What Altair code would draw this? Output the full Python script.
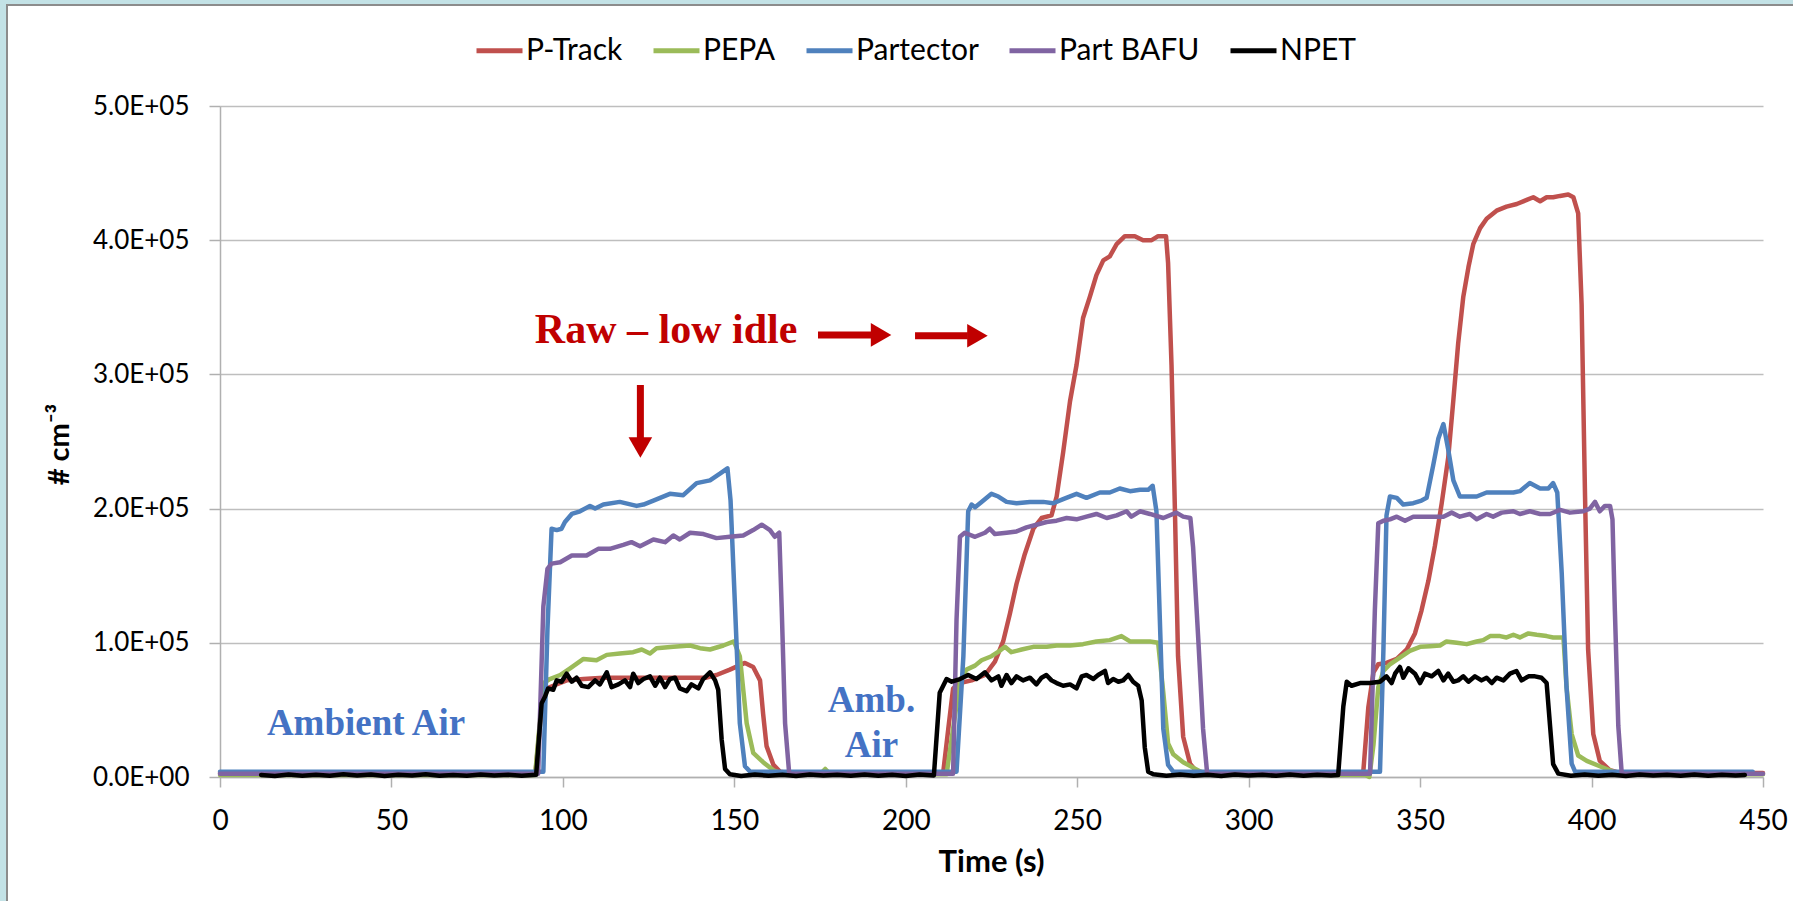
import altair as alt
import pandas as pd

# ---------------- data (values in thousands of # cm-3) ----------------
series_names = ["P-Track", "PEPA", "Partector", "Part BAFU", "NPET"]
series_colors = ["#C0504D", "#9BBB59", "#4F81BD", "#8064A2", "#000000"]

ptrack_t = [0, 92, 93.8, 95.3, 97.2, 101.1, 106, 111.8, 118.6, 125.4, 131.2, 137.1, 141.9, 144.8, 148.7,
            153.1, 155.5, 157.5, 158.4, 159.4, 161.4, 163.3, 166,
            210.9, 212.4, 213.8, 215.8, 219.2, 223.1, 226, 228.4, 230.4, 232.3, 234.7, 237.2, 239.6, 242.5,
            244, 245.9, 247.9, 249.8, 251.7, 253.7, 255.6, 257.6, 259.5, 261.5, 263.9, 266.8, 269.2, 271.7,
            273.6, 275.9, 276.5, 277.5, 278.5, 279.4, 280.9, 282.9, 284.8, 290,
            333.4, 334.9, 336.4, 337.8, 340.2, 343.2, 346.1, 348.5, 350.4, 352.4, 354.3, 356.3, 358.2, 359.7,
            361.1, 362.6, 364.1, 365.5, 367.5, 369.4, 372.3, 375.2, 378.2, 381.1, 383, 385, 386.9, 388.8,
            390.8, 393.2, 394.7, 396.1, 397.1, 398.1, 399, 400.5, 402.4, 405.4, 408.3, 450]
ptrack_v = [3, 3, 52, 66, 68, 72, 73, 74, 74, 74, 74, 74, 74, 76, 80,
            85, 82, 72, 47, 23, 9, 4, 3,
            3, 36, 66, 70, 72, 76, 86, 101, 122, 144, 166, 185, 193, 195,
            209, 242, 280, 307, 342, 358, 374, 385, 388, 397, 403, 403, 400, 400,
            403, 403, 383, 307, 198, 90, 30, 10, 4, 3,
            3, 52, 78, 84, 85, 88, 95, 107, 124, 146, 172, 204, 238, 281,
            323, 358, 380, 397, 409, 416, 422, 425, 427, 430, 432, 429, 432, 432,
            433, 434, 432, 420, 352, 209, 95, 32, 12, 5, 3, 3]

pepa_t = [0, 91.9, 94.3, 96.2, 99.2, 102.1, 106, 109.8, 112.8, 116.6, 120.5, 123, 125.4, 127.3, 132.2,
          137.1, 140, 142.9, 146.8, 149.9, 151.6, 153.6, 155.5, 158.4, 161.4, 164.3, 175, 176.5, 178,
          211.9, 213.8, 215.8, 217.7, 220.2, 222.1, 225, 227.4, 228.9, 230.8, 233.8, 237.2, 241.1, 244,
          247.9, 251.7, 255.6, 259.5, 262.9, 265.4, 268.3, 271.2, 273.6, 275.1, 276.5, 278, 280.9, 283.8,
          286.7, 290,
          334, 335.2, 336.4, 337.8, 339.3, 341.2, 344.1, 347, 350, 352.9, 355.8, 357.7, 360.7, 363.6,
          366.5, 368.4, 370.4, 373.3, 375.2, 377.2, 379.1, 381.6, 384, 386.9, 388.8, 391.8, 392.7, 394.2,
          396.1, 398.6, 402.4, 406.3, 410, 450]
pepa_v = [1.5, 1.5, 70, 73, 76, 81, 88, 87, 91, 92, 93, 95, 92, 96, 97,
          98, 96, 95, 98, 101, 90, 40, 18, 11, 5, 2, 2, 6, 2,
          2, 36, 71, 80, 83, 87, 90, 94, 97, 93, 95, 97, 97, 98,
          98, 99, 101, 102, 105, 101, 101, 101, 100, 63, 25, 17, 11, 7,
          3, 2,
          1.5, 0, 24, 67, 79, 84, 89, 94, 97, 97.5, 98, 101, 100, 99,
          101, 102, 105, 105, 104, 106, 104, 107, 106, 105, 104, 104, 67, 32,
          16, 12, 8, 4, 2, 2]

partector_t = [0, 94.3, 95.5, 96.7, 98.2, 99.6, 100.6, 102.6, 105, 107.9, 109.4, 111.8, 116.6, 121.5,
               123.5, 126.4, 131.2, 135.1, 139, 142.9, 145.8, 148, 148.9, 150.2, 151.6, 153.1, 154.6,
               214.8, 216.8, 218.2, 219.2, 220.2, 222.1, 225, 227, 229.4, 232.3, 236.2, 240.1, 243, 245.9,
               249.8, 252.7, 256.6, 259.5, 262.4, 265.4, 268.3, 270.7, 272, 273.1, 274.1, 275.1, 276.5, 278,
               338.3, 339.3, 340.2, 341.2, 343.2, 345.1, 348, 350.4, 351.9, 353.8, 355.3, 356.8, 358.2, 359.7,
               361.6, 363.6, 366.5, 369.4, 373.3, 377.2, 379.1, 382, 385, 387.4, 388.8, 390, 391.3, 392.7,
               394.2, 395.2, 447]
partector_v = [4, 4, 110, 185, 184, 185, 190, 196, 198, 202, 200, 203, 205, 202,
               203, 206, 211, 210, 219, 221, 226, 230, 206, 127, 40, 8, 4,
               4, 90, 198, 203, 201, 205, 211, 209, 205, 204, 205, 205, 204, 207,
               211, 208, 212, 212, 215, 213, 214, 214, 217, 198, 117, 36, 9, 4,
               4, 95, 195, 209, 208, 203, 204, 206, 208, 232, 252, 263, 244, 221,
               209, 209, 209, 212, 212, 212, 213, 219, 215, 215, 219, 212, 152, 67,
               10, 4, 4]

bafu_t = [0, 92.8, 94.3, 95.5, 96.7, 99.2, 102.6, 106.9, 110.3, 113.7, 117.6, 120, 122.5, 126.4, 129.8,
          132.2, 134.1, 137.1, 141, 144.8, 148.7, 152.6, 155.5, 158, 160.4, 161.8, 163.1, 163.8, 164.8, 166,
          213.8, 214.8, 215.8, 217.2, 220.2, 223.1, 224.5, 226, 229.4, 232.3, 235.2, 238.1, 241.1, 244,
          246.9, 249.8, 252.7, 255.6, 258.6, 261.5, 264.4, 265.8, 268.3, 271.2, 275.1, 278.9, 280.9, 283,
          283.8, 285.3, 286.7, 287.9,
          335.4, 336.8, 337.8, 339.3, 341.2, 343.2, 345.6, 348, 350.9, 353.8, 356.8, 359.2, 361.6, 364.5,
          366.5, 369.4, 371.3, 373.8, 377.2, 379.1, 382, 385, 387.9, 390.8, 393.7, 397.6, 399.5, 401,
          402.4, 403.9, 405.4, 406.1, 406.8, 407.8, 408.8, 450]
bafu_v = [2.5, 2.5, 127, 155, 159, 160, 165, 165, 170, 170, 173, 175, 172, 177, 175,
          180, 177, 182, 181, 178, 179, 180, 184, 188, 184, 179, 182, 127, 40, 2.5,
          2.5, 117, 179, 182, 179, 182, 185, 181, 182, 183, 186, 188, 190, 191,
          193, 192, 194, 196, 193, 195, 198, 194, 198, 196, 193, 197, 194, 193,
          171, 103, 36, 2.5,
          2.5, 124, 189, 191, 192, 194, 191, 194, 194, 194, 194, 197, 194, 196,
          192, 196, 194, 197, 198, 196, 198, 196, 196, 199, 197, 198, 200, 205,
          198, 202, 202, 192, 124, 38, 2.5, 2.5]

npet_t = [12, 16, 20, 24, 28, 32, 36, 40, 44, 48, 52, 56, 60, 64, 68, 72, 76, 80, 84, 88, 92.2,
          93.8, 94.8, 95.7, 97.2, 98.2, 99.6, 101.1, 102.6, 104, 105.5, 107.4, 109.4, 110.8, 112.8,
          114.2, 116.2, 118.1, 119.6, 120.5, 122, 123.5, 125.4, 126.9, 128.3, 129.8, 131.2, 132.7,
          134.1, 136.1, 137.5, 139.5, 140.9, 142.9, 144.4, 145.3, 146.3, 147.3, 148.7,
          152, 156, 160, 164, 168, 172, 176, 180, 184, 188, 192, 196, 200, 204, 208.2,
          209.9, 211.9, 213.4, 215.8, 218.2, 220.6, 223.1, 225, 227, 227.9, 229.4, 230.8, 232.3, 234.2,
          236.2, 238.1, 239.6, 241, 242.5, 244, 245.9, 247.9, 249.8, 251.3, 252.7, 254.7, 256.1, 258.1,
          259, 260.5, 262, 263.4, 264.9, 266.3, 267.8, 268.8, 269.7, 270.7, 272.2,
          276, 280, 284, 288, 292, 296, 300, 304, 308, 312, 316, 320, 324, 326.1,
          327.6, 328.6, 330, 332.5, 335.4, 338.3, 340.2, 341.7, 342.7, 344.1, 345.1, 346.6, 348.5, 350,
          351.4, 353.4, 355.3, 356.8, 358.2, 359.7, 361.1, 362.6, 364.1, 366, 367.9, 369.4, 370.9, 372.3,
          374.3, 376.2, 378.1, 379.6, 381.6, 383.5, 385.4, 386.9, 387.9, 388.8, 390.3,
          394, 398, 402, 406, 410, 414, 418, 422, 426, 430, 434, 438, 442, 444.7]
npet_v = [1.5, 0.8, 1.9, 1.0, 1.7, 0.9, 2.0, 1.2, 1.8, 0.7, 1.6, 1.1, 2.0, 0.9, 1.5, 1.0, 1.9, 1.2, 1.7, 0.9, 1.6,
          55, 60, 66, 65, 72, 71, 77, 71, 74, 68, 67, 72, 69, 78,
          67, 69, 72, 67, 77, 70, 73, 75, 68, 74, 67, 73, 74,
          66, 64, 69, 66, 73, 78, 72, 65, 28, 6, 2,
          0.8, 1.8, 1.0, 1.6, 0.8, 1.9, 1.1, 1.7, 0.9, 1.8, 1.0, 1.6, 0.7, 1.8, 1.2,
          62.8, 73, 71, 73, 76, 73, 78, 72, 75, 68, 76, 70, 75, 72,
          74, 69, 74, 76, 72, 70, 68, 69, 66, 75, 76, 73, 76, 79,
          70, 73, 71, 72, 76, 71, 68, 57, 22, 4, 2,
          0.9, 1.8, 1.0, 1.7, 0.8, 1.9, 1.1, 1.6, 0.9, 1.8, 1.0, 1.7, 1.1, 1.5,
          52.4, 71, 68, 70, 70, 71, 75, 70, 77, 82, 74, 81, 77, 70,
          77, 75, 79, 72, 77, 71, 72, 75, 71, 75, 72, 74, 70, 74,
          72, 77, 79, 72, 75, 75, 74, 70, 38, 9.6, 2.5,
          0.9, 1.8, 1.0, 1.7, 0.8, 1.9, 1.1, 1.7, 0.9, 1.8, 1.0, 1.6, 1.1, 1.5]

series_t = [ptrack_t, pepa_t, partector_t, bafu_t, npet_t]
series_v = [ptrack_v, pepa_v, partector_v, bafu_v, npet_v]

x_ticks = [0, 50, 100, 150, 200, 250, 300, 350, 400, 450]
y_ticks = [0, 100000, 200000, 300000, 400000, 500000]

# annotations (data coordinates)
ann_text = ["Raw \u2013 low idle", "Ambient Air", "Amb.", "Air"]
ann_t = [130.1, 42.6, 190.0, 190.0]
ann_v = [323400, 31300, 48700, 15100]
ann_color = ["#C00000", "#4472C4", "#4472C4", "#4472C4"]
ann_size = [42, 37, 37, 37]

h_arrow_t = [174.4, 202.7]
h_arrow_t2 = [190.1, 218.1]
h_arrow_v = [329400, 328800]
h_head_t = [192.8, 220.9]

v_arrow_t = [122.6]
v_arrow_v = [292100]
v_arrow_v2 = [251100]
v_head_v = [245500]

# ---------------- build ----------------
W, H = 1543, 671
FONT = "Lato"

x_enc = alt.X("t:Q",
              scale=alt.Scale(domain=[0, 450], nice=False, zero=False),
              axis=alt.Axis(values=x_ticks, grid=False, title="Time (s)", labelFlush=False,
                            labelFont=FONT, labelFontSize=28, labelColor="#000000",
                            labelPadding=20, tickSize=10, tickColor="#B0B0B0", tickWidth=1.5,
                            domainColor="#B0B0B0", domainWidth=1.5,
                            titleFont=FONT, titleFontSize=31, titleFontWeight="bold",
                            titleColor="#000000", titleX=771, titleY=94,
                            titleBaseline="alphabetic", titleAnchor="middle"))
y_enc = alt.Y("v:Q",
              scale=alt.Scale(domain=[0, 500000], nice=False),
              axis=alt.Axis(values=y_ticks, grid=True, gridColor="#BEBEBE", gridWidth=1.5,
                            labelFlush=False,
                            labelExpr="datum.value == 0 ? '0.0E+00' : format(datum.value / 100000, '.1f') + 'E+05'",
                            labelFont=FONT, labelFontSize=26, labelColor="#000000",
                            labelPadding=20, tickSize=11, tickColor="#B0B0B0", tickWidth=1.5,
                            domainColor="#B0B0B0", domainWidth=1.5,
                            title="# cm\u207B\u00B3", titleFont=FONT, titleFontSize=29,
                            titleFontWeight="bold", titleColor="#000000",
                            titleAngle=270, titleX=-161, titleY=338,
                            titleAlign="center", titleBaseline="middle"))

color_enc = alt.Color("series:N",
                      scale=alt.Scale(domain=series_names, range=series_colors),
                      legend=alt.Legend(orient="none", legendX=254, legendY=-81,
                                        direction="horizontal", title=None,
                                        symbolType="stroke", symbolSize=2116,
                                        symbolStrokeWidth=5, labelFont=FONT,
                                        labelFontSize=30, labelColor="#000000",
                                        labelOffset=1, columnPadding=20, padding=0,
                                        labelLimit=300))

# decorative frame (light-blue margin and grey border on the left and top)
one = pd.DataFrame({"k": [0]})
frame_left = alt.Chart(one).mark_rect(color="#C3E2E6").encode(
    x=alt.value(-220), x2=alt.value(-214), y=alt.value(-106), y2=alt.value(803))
frame_top = alt.Chart(one).mark_rect(color="#C3E2E6").encode(
    x=alt.value(-220), x2=alt.value(1581), y=alt.value(-106), y2=alt.value(-102))
border_left = alt.Chart(one).mark_rect(color="#8C8C8C").encode(
    x=alt.value(-214), x2=alt.value(-212), y=alt.value(-102), y2=alt.value(803))
border_top = alt.Chart(one).mark_rect(color="#8C8C8C").encode(
    x=alt.value(-214), x2=alt.value(1581), y=alt.value(-102), y2=alt.value(-100))

layers = [frame_left, frame_top, border_left, border_top]
for name, ts, vs in zip(series_names, series_t, series_v):
    df = pd.DataFrame({"t": ts, "v": [v * 1000 for v in vs], "series": name})
    layers.append(
        alt.Chart(df).mark_line(strokeWidth=4.5, strokeJoin="round", strokeCap="round").encode(
            x=x_enc, y=y_enc, color=color_enc))

ann_df = pd.DataFrame({"t": ann_t, "v": ann_v, "txt": ann_text, "col": ann_color, "fs": ann_size})
texts = alt.Chart(ann_df).mark_text(font="Liberation Serif", fontWeight="bold",
                                    align="center", baseline="alphabetic").encode(
    x=x_enc, y=y_enc, text="txt:N",
    color=alt.Color("col:N", scale=None),
    size=alt.Size("fs:Q", scale=None))
layers.append(texts)

harrow_df = pd.DataFrame({"t": h_arrow_t, "t2": h_arrow_t2, "v": h_arrow_v})
layers.append(alt.Chart(harrow_df).mark_rule(color="#C00000", strokeWidth=7).encode(
    x=x_enc, x2=alt.X2("t2:Q"), y=y_enc))
hhead_df = pd.DataFrame({"t": h_head_t, "v": h_arrow_v})
layers.append(alt.Chart(hhead_df).mark_point(shape="triangle-right", filled=True, size=560,
                                             color="#C00000", opacity=1, strokeWidth=0).encode(
    x=x_enc, y=y_enc))

varrow_df = pd.DataFrame({"t": v_arrow_t, "v": v_arrow_v, "v2": v_arrow_v2})
layers.append(alt.Chart(varrow_df).mark_rule(color="#C00000", strokeWidth=7).encode(
    x=x_enc, y=y_enc, y2=alt.Y2("v2:Q")))
vhead_df = pd.DataFrame({"t": v_arrow_t, "v": v_head_v})
layers.append(alt.Chart(vhead_df).mark_point(shape="triangle-down", filled=True, size=560,
                                             color="#C00000", opacity=1, strokeWidth=0).encode(
    x=x_enc, y=y_enc))

chart = alt.layer(*layers).properties(
    width=W, height=H,
    autosize=alt.AutoSizeParams(type="none"),
    padding={"left": 220, "top": 106, "right": 30, "bottom": 124},
    background="#FFFFFF",
).configure_view(stroke="transparent")

chart.save("out.html", embed_options={"renderer": "svg", "actions": False})
